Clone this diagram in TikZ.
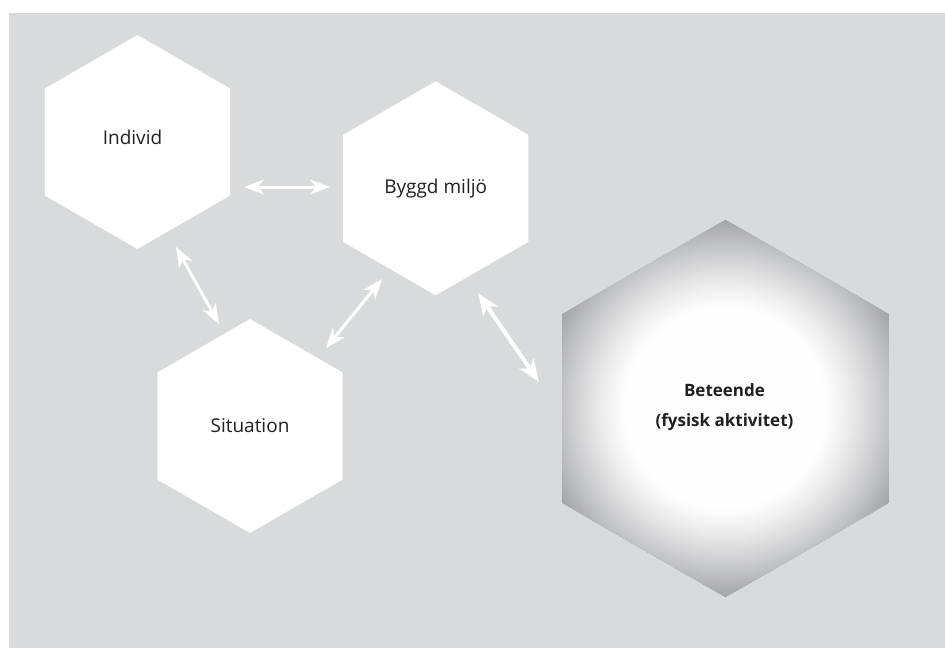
\documentclass[tikz,border=0pt]{standalone}
\usepackage{fontspec}
\setmainfont{Open Sans}
\usetikzlibrary{arrows.meta,shapes.geometric}
\definecolor{bg}{HTML}{D9DADC}
\definecolor{txt}{HTML}{231F20}
\definecolor{hexcorner}{HTML}{A3A4A7}
\begin{document}
\begin{tikzpicture}[x=1pt,y=-1pt,
  hex/.style={regular polygon, regular polygon sides=6, shape border rotate=30,
    inner sep=0pt, outer sep=0pt, fill=white, minimum size=214pt,
    text=txt, font=\fontsize{19}{23}\selectfont},
  lbl/.style={text=txt, inner sep=0pt, font=\fontsize{19}{23}\selectfont},
  boldlbl/.style={text=txt, inner sep=0pt, font=\bfseries\fontsize{17}{20}\selectfont},
  link/.style={draw=white, line width=3pt,
    {Stealth[length=20pt,width=15pt,inset=6pt]}-{Stealth[length=20pt,width=15pt,inset=6pt]}},
  biglink/.style={link, line width=4pt,
    {Stealth[length=22pt,width=17pt,inset=6pt]}-{Stealth[length=22pt,width=17pt,inset=6pt]}}]
\useasboundingbox (0,0) rectangle (945,648);
\fill[white] (0,0) rectangle (945,648);
\fill[bg] (9,13) rectangle (945,648);

\node[hex] (individ) at (137.5,142) {};
\node[lbl] (individtxt) at (132.5,137) {Individ};
\node[hex] (byggd) at (435.7,188.3) {Byggd miljö};
\node[hex] (situation) at (250,426) {Situation};
\node[hex, fill=none, minimum size=377pt] (beteende) at (725.5,408.5) {};
\begin{scope}
  \clip (beteende.corner 1) -- (beteende.corner 2) -- (beteende.corner 3) --
        (beteende.corner 4) -- (beteende.corner 5) -- (beteende.corner 6) -- cycle;
  \fill[hexcorner] (beteende.center) circle (200pt);
  \foreach \r in {190,188.5,...,99} {
    \pgfmathsetmacro\shadepct{max(0,min(100,100*((\r-98)/92)^1.25))}
    \fill[hexcorner!\shadepct!white] (beteende.center) circle (\r pt);
  }
\end{scope}
\node[boldlbl] (betA) at (724.5,390) {Beteende};
\node[boldlbl] (betB) at (724.5,422) {(fysisk aktivitet)};

\coordinate (a1s) at (244,187);
\coordinate (a1e) at (330,187);
\coordinate (a2s) at (176,247);
\coordinate (a2e) at (219,324);
\coordinate (a3s) at (382,279);
\coordinate (a3e) at (326,348);
\coordinate (a4s) at (478,293);
\coordinate (a4e) at (539,382);

\draw[link] (a1s) -- (a1e);
\draw[link] (a2s) -- (a2e);
\draw[link] (a3s) -- (a3e);
\draw[biglink] (a4s) -- (a4e);
\end{tikzpicture}
\end{document}
